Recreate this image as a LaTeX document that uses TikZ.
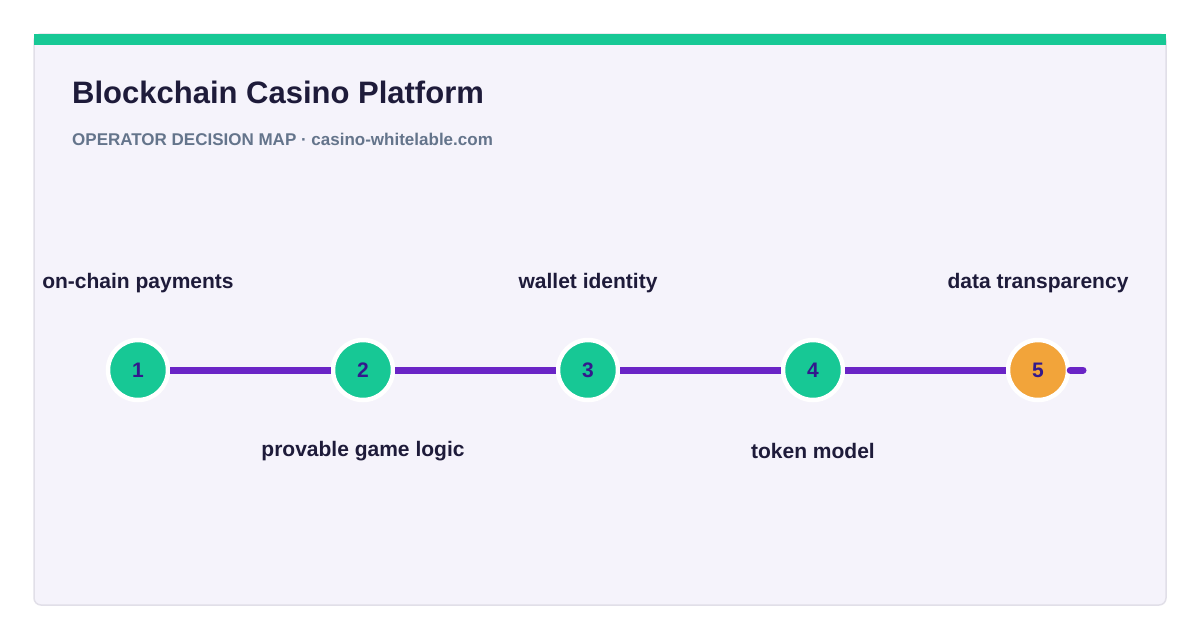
\documentclass[tikz,border=0pt]{standalone}
\usepackage{fontspec}
\setmainfont{Liberation Sans}
\usepackage{tikz}
\usetikzlibrary{positioning}

\definecolor{cardbg}{HTML}{F5F3FB}
\definecolor{cardrule}{HTML}{E1DFE8}
\definecolor{mint}{HTML}{17C895}
\definecolor{amber}{HTML}{F2A43A}
\definecolor{violet}{HTML}{6A24C6}
\definecolor{ink}{HTML}{1E1B3A}
\definecolor{slate}{HTML}{64748B}
\definecolor{numink}{HTML}{33198C}

\tikzset{
  milestone/.style={circle, fill=mint, draw=white, line width=4.5pt, minimum size=60pt,
    inner sep=0pt, text=numink, font=\fontsize{21}{24}\selectfont\bfseries},
  lbl/.style={text=ink, font=\fontsize{21}{25}\selectfont\bfseries},
  track/.style={violet, line width=7pt}
}

\begin{document}
\begin{tikzpicture}[x=1pt, y=-1pt]
  \useasboundingbox (0,0) rectangle (1200,640);

  % Carte
  \draw[cardrule, fill=cardbg, line width=1.5pt, rounded corners=7pt] (34,34) rectangle (1166,605);
  \fill[mint] (34,34) rectangle (1166,45);

  % Titre
  \node[anchor=west, inner sep=0pt, text=ink, font=\fontsize{31}{37}\selectfont\bfseries] (title) at (72,92) {Blockchain Casino Platform};
  \node[anchor=west, inner sep=0pt, text=slate, font=\fontsize{17}{20}\selectfont\bfseries] (subtitle) at (72,139) {OPERATOR DECISION MAP · casino-whitelable.com};

  % Etapes
  \node[milestone] (n1) at (138,370) {1};
  \node[milestone] (n2) at (363,370) {2};
  \node[milestone] (n3) at (588,370) {3};
  \node[milestone] (n4) at (813,370) {4};
  \node[milestone, fill=amber] (n5) at (1038,370) {5};
  \coordinate (tail) at (1083,370);

  % Libelles
  \node[lbl] (l1) at (138,283) {on-chain payments};
  \node[lbl] (l2) at (363,451) {provable game logic};
  \node[lbl] (l3) at (588,283) {wallet identity};
  \node[lbl] (l4) at (813,451) {token model};
  \node[lbl] (l5) at (1038,283) {data transparency};

  % Connexions
  \draw[track] (n1) -- (n2);
  \draw[track] (n2) -- (n3);
  \draw[track] (n3) -- (n4);
  \draw[track] (n4) -- (n5);
  \draw[track, line cap=round] (n5) -- (tail);
\end{tikzpicture}
\end{document}
